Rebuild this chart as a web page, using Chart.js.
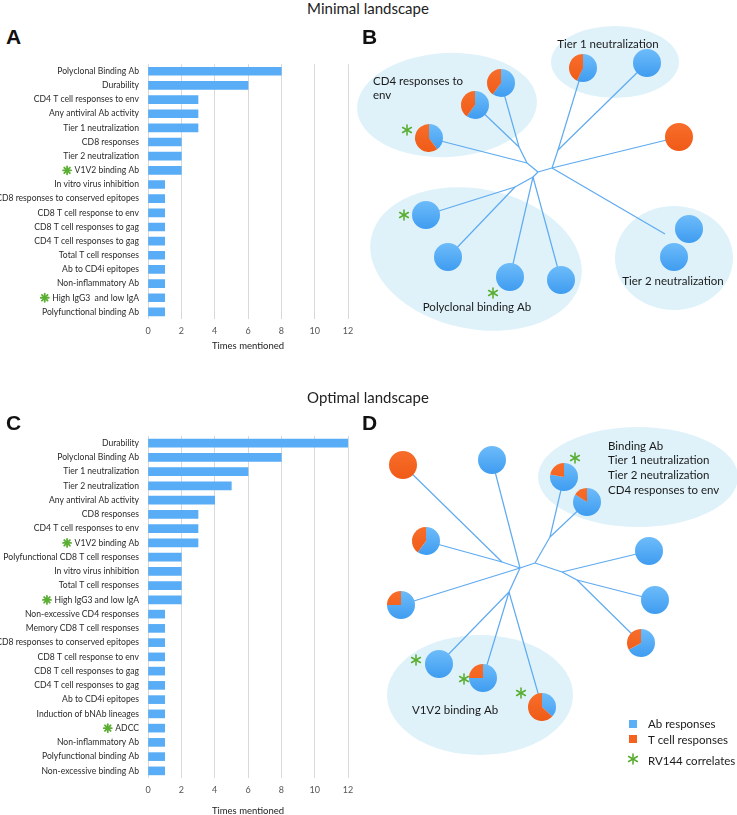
<!DOCTYPE html>
<html>
<head>
<meta charset="utf-8">
<script src="https://cdn.jsdelivr.net/npm/chart.js@4.4.1/dist/chart.umd.min.js"></script>
<style>
  body { margin: 0; width: 737px; height: 815px; overflow: hidden; background: #fff; position: relative; font-family: Lato, sans-serif; color: #222; }
  canvas { position: absolute; }
  .title { position: absolute; left: 368px; transform: translate(-50%, -50%); font-size: 15px; white-space: nowrap; }
  .panel { position: absolute; font: bold 21px "Liberation Sans", Arial, sans-serif; color: #111; }
</style>
</head>
<body>
<canvas id="barA" width="360" height="306" style="left:0;top:50px"></canvas>
<canvas id="treeB" width="387" height="325" style="left:350px;top:20px"></canvas>
<canvas id="barC" width="360" height="401" style="left:0;top:420px"></canvas>
<canvas id="treeD" width="387" height="410" style="left:350px;top:405px"></canvas>

<div class="title" style="top:8px">Minimal landscape</div>
<div class="title" style="top:397px">Optimal landscape</div>
<div class="panel" style="left:6px;top:25px">A</div>
<div class="panel" style="left:362px;top:25px">B</div>
<div class="panel" style="left:6px;top:411px">C</div>
<div class="panel" style="left:362px;top:411px">D</div>

<script>
// ---- bar chart data (times mentioned) ----
const minimalLabels = [
  'Polyclonal Binding Ab', 'Durability', 'CD4 T cell responses to env', 'Any antiviral Ab activity',
  'Tier 1 neutralization', 'CD8 responses', 'Tier 2 neutralization', 'V1V2 binding Ab',
  'In vitro virus inhibition', 'CD8 responses to conserved epitopes', 'CD8 T cell response to env',
  'CD8 T cell responses to gag', 'CD4 T cell responses to gag', 'Total T cell responses',
  'Ab to CD4i epitopes', 'Non-inflammatory Ab', 'High IgG3  and low IgA', 'Polyfunctional binding Ab'
];
const minimalCounts = [8, 6, 3, 3, 3, 2, 2, 2, 1, 1, 1, 1, 1, 1, 1, 1, 1, 1];
const minimalCorrelates = ['V1V2 binding Ab', 'High IgG3  and low IgA'];

const optimalLabels = [
  'Durability', 'Polyclonal Binding Ab', 'Tier 1 neutralization', 'Tier 2 neutralization',
  'Any antiviral Ab activity', 'CD8 responses', 'CD4 T cell responses to env', 'V1V2 binding Ab',
  'Polyfunctional CD8 T cell responses', 'In vitro virus inhibition', 'Total T cell responses',
  'High IgG3 and low IgA', 'Non-excessive CD4 responses', 'Memory CD8 T cell responses',
  'CD8 responses to conserved epitopes', 'CD8 T cell response to env', 'CD8 T cell responses to gag',
  'CD4 T cell responses to gag', 'Ab to CD4i epitopes', 'Induction of bNAb lineages', 'ADCC',
  'Non-inflammatory Ab', 'Polyfunctional binding Ab', 'Non-excessive binding Ab'
];
const optimalCounts = [12, 8, 6, 5, 4, 3, 3, 3, 2, 2, 2, 2, 1, 1, 1, 1, 1, 1, 1, 1, 1, 1, 1, 1];
const optimalCorrelates = ['V1V2 binding Ab', 'High IgG3 and low IgA', 'ADCC'];

const axisMax = 12;
const axisStep = 2;

// ---- tree data: Ab share of each leaf pie (1 = all Ab, 0 = all T cell) ----
const minimalLeaves = ['b1', 'b2', 'b3', 'b4', 'b5', 'b6', 'b7', 'b8', 'b9', 'b10', 'b11', 'b12'];
const minimalAbShare = [0.6, 0.6, 0.4, 0.57, 1, 0, 1, 1, 1, 1, 1, 1];
const minimalStarLeaves = ['b3', 'b7', 'b9'];
const minimalEdges = [
  ['P', 'R'], ['R', 'b3'], ['R', 'S'], ['S', 'b1'], ['S', 'b2'],
  ['P', 'Q'], ['Q', 'T'], ['T', 'b4'], ['T', 'b5'], ['Q', 'b6'], ['Q', 'X'],
  ['P', 'U'], ['U', 'V'], ['V', 'b7'], ['V', 'b8'], ['U', 'b9'], ['U', 'b10']
];
const minimalGroups = ['CD4 responses to\nenv', 'Tier 1 neutralization', 'Polyclonal binding Ab', 'Tier 2 neutralization'];

const optimalLeaves = ['d1', 'd2', 'd3', 'd4', 'd5', 'd6', 'd7', 'd8', 'd9', 'd10', 'd11', 'd12'];
const optimalAbShare = [0, 1, 0.78, 0.84, 0.6, 1, 0.75, 1, 0.67, 1, 0.75, 0.37];
const optimalStarLeaves = ['d3', 'd10', 'd11', 'd12'];
const optimalEdges = [
  ['P', 'Q'], ['P', 'L'], ['L', 'd1'], ['L', 'd5'], ['P', 'd2'], ['P', 'd7'],
  ['P', 'B'], ['B', 'd10'], ['B', 'd11'], ['B', 'd12'],
  ['Q', 'T'], ['T', 'd3'], ['T', 'd4'], ['Q', 'R1'], ['R1', 'd6'], ['R1', 'R2'], ['R2', 'd8'], ['R2', 'd9']
];
const optimalGroups = ['Binding Ab\nTier 1 neutralization\nTier 2 neutralization\nCD4 responses to env', 'V1V2 binding Ab'];
const legendLabels = ['Ab responses', 'T cell responses', 'RV144 correlates'];

// ---- layout (page pixels) ----
const minimalLayout = {
  P: [538, 172], R: [527, 163], S: [519, 147], Q: [552, 168], T: [558, 150], U: [533, 177], V: [515, 187], X: [665, 234],
  b1: [501, 83], b2: [475, 105], b3: [429, 138], b4: [583, 68], b5: [647, 63], b6: [679, 137],
  b7: [426, 215], b8: [448, 257], b9: [510, 277], b10: [561, 280], b11: [689, 229], b12: [674, 257]
};
const minimalStarOffset = { b3: [-22, -8], b7: [-22, 0], b9: [-17, 16] };
const minimalEllipses = [[447, 105, 90, 52, -0.05], [615, 62, 64, 36, 0], [476, 259, 107, 70, 0.2], [674, 258, 59, 52, 0]];
const minimalGroupPos = [[373, 81, 'left'], [608, 44, 'center'], [477, 307, 'center'], [673, 281, 'center']];

const optimalLayout = {
  P: [520, 568], Q: [535, 563], L: [502, 562], B: [509, 592], T: [550, 537], R1: [562, 572], R2: [577, 580],
  d1: [403, 465], d2: [492, 460], d3: [564, 477], d4: [587, 502], d5: [426, 541], d6: [649, 551],
  d7: [401, 605], d8: [655, 600], d9: [641, 643], d10: [439, 664], d11: [483, 678], d12: [542, 707]
};
const optimalStarOffset = { d3: [11, -19], d10: [-23, -4], d11: [-19, 1], d12: [-21, -14] };
const optimalEllipses = [[638, 477, 100, 50, 0], [480, 695, 93, 60, 0]];
const optimalGroupPos = [[608, 446, 'left'], [455, 710, 'center']];
const legendPos = [633, 648, [724, 740, 761]];

// ---- styles ----
const barBlue = '#59adf6';
const lineBlue = '#5eaaf0';
const ellipseFill = '#dff2fa';
const starGreen = '#5aae32';
const labelFontSize = 8.6;
const tickFont = { family: 'Lato', size: labelFontSize };

function drawAsterisk(ctx, x, y, r, arms, width) {
  ctx.save();
  ctx.strokeStyle = starGreen;
  ctx.lineWidth = width;
  ctx.lineCap = 'round';
  for (let i = 0; i < arms / 2; i++) {
    const a = Math.PI / 2 + (2 * Math.PI * i) / arms;
    ctx.beginPath();
    ctx.moveTo(x + r * Math.cos(a), y + r * Math.sin(a));
    ctx.lineTo(x - r * Math.cos(a), y - r * Math.sin(a));
    ctx.stroke();
  }
  ctx.restore();
}

// green asterisk in front of the correlate labels
const correlateStars = {
  id: 'correlateStars',
  afterDraw(chart, args, opts) {
    const ctx = chart.ctx;
    const yScale = chart.scales.y;
    const labels = chart.data.labels;
    ctx.save();
    ctx.font = labelFontSize + 'px Lato';
    opts.names.forEach(name => {
      const i = labels.indexOf(name);
      if (i < 0) return;
      const w = ctx.measureText(name).width;
      const right = yScale.right - yScale.options.ticks.padding;
      drawAsterisk(ctx, right - w - 7.5, yScale.getPixelForValue(i), 4, 8, 1.8);
    });
    ctx.restore();
  }
};

function makeBarChart(id, labels, counts, correlates, padTop, axisHeight) {
  return new Chart(document.getElementById(id), {
    type: 'bar',
    data: {
      labels: labels,
      datasets: [{ data: counts, backgroundColor: barBlue, barThickness: 8 }]
    },
    options: {
      indexAxis: 'y',
      responsive: false,
      animation: false,
      layout: { padding: { top: padTop, right: 12, left: 0, bottom: 0 } },
      plugins: {
        legend: { display: false },
        tooltip: { enabled: false },
        correlateStars: { names: correlates }
      },
      scales: {
        x: {
          min: 0, max: axisMax,
          ticks: { stepSize: axisStep, padding: 6.5, font: { family: 'Lato', size: 9 }, color: '#555' },
          grid: { color: '#d9d9d9', drawTicks: false },
          border: { display: false },
          title: { display: true, text: 'Times mentioned', font: { family: 'Lato', size: 9.5 }, color: '#222', padding: { top: 0, bottom: 4 } },
          afterFit(scale) { scale.height = axisHeight; }
        },
        y: {
          ticks: { padding: 9, font: tickFont, color: '#2a2a2a', autoSkip: false },
          grid: { display: false, drawTicks: false },
          border: { display: false },
          afterFit(scale) { scale.width = 148; }
        }
      }
    },
    plugins: [correlateStars]
  });
}

makeBarChart('barA', minimalLabels, minimalCounts, minimalCorrelates, 13, 37);
makeBarChart('barC', optimalLabels, optimalCounts, optimalCorrelates, 16, 43);

// ---- trees ----
const treeDecor = {
  id: 'treeDecor',
  beforeDatasetsDraw(chart, args, o) {
    const ctx = chart.ctx, xs = chart.scales.x, ys = chart.scales.y;
    ctx.save();
    ctx.fillStyle = ellipseFill;
    o.ellipses.forEach(([cx, cy, rx, ry, rot]) => {
      const px = xs.getPixelForValue(cx), py = ys.getPixelForValue(cy);
      ctx.beginPath();
      ctx.ellipse(px, py, xs.getPixelForValue(cx + rx) - px, ys.getPixelForValue(cy + ry) - py, rot, 0, Math.PI * 2);
      ctx.fill();
    });
    ctx.restore();
  },
  afterDatasetsDraw(chart, args, o) {
    const ctx = chart.ctx, xs = chart.scales.x, ys = chart.scales.y;
    const r = 14;
    ctx.save();
    o.leaves.forEach((id, i) => {
      const [lx, ly] = o.layout[id];
      const px = xs.getPixelForValue(lx), py = ys.getPixelForValue(ly);
      const blue = ctx.createLinearGradient(0, py - r, 0, py + r);
      blue.addColorStop(0, '#6dbcfa'); blue.addColorStop(1, '#3f9cf0');
      const orange = ctx.createLinearGradient(0, py - r, 0, py + r);
      orange.addColorStop(0, '#f86d2a'); orange.addColorStop(1, '#ef5b17');
      const share = o.abShare[i];
      const start = -Math.PI / 2, mid = start + share * Math.PI * 2;
      if (share > 0) {
        ctx.fillStyle = blue;
        ctx.beginPath(); ctx.moveTo(px, py); ctx.arc(px, py, r, start, mid); ctx.closePath(); ctx.fill();
      }
      if (share < 1) {
        ctx.fillStyle = orange;
        ctx.beginPath(); ctx.moveTo(px, py); ctx.arc(px, py, r, mid, start + Math.PI * 2); ctx.closePath(); ctx.fill();
      }
      if (o.stars.includes(id)) {
        const [dx, dy] = o.starOffset[id];
        drawAsterisk(ctx, px + dx, py + dy, 5, 6, 1.6);
      }
    });
    ctx.fillStyle = '#1a1a1a';
    ctx.font = '11.5px Lato';
    ctx.textBaseline = 'middle';
    o.groups.forEach((text, i) => {
      const [gx, gy, align] = o.groupPos[i];
      ctx.textAlign = align;
      text.split('\n').forEach((line, k) => {
        ctx.fillText(line, xs.getPixelForValue(gx), ys.getPixelForValue(gy + k * 14.6));
      });
    });
    if (o.legend) {
      const [sx, tx, rows] = legendPos;
      ctx.textAlign = 'left';
      ctx.fillStyle = '#5aaff6';
      ctx.fillRect(xs.getPixelForValue(sx) - 4, ys.getPixelForValue(rows[0]) - 4, 8, 8);
      ctx.fillStyle = '#f5621d';
      ctx.fillRect(xs.getPixelForValue(sx) - 4, ys.getPixelForValue(rows[1]) - 5, 8, 8);
      drawAsterisk(ctx, xs.getPixelForValue(sx), ys.getPixelForValue(rows[2]) - 2, 5, 6, 1.6);
      ctx.fillStyle = '#1a1a1a';
      o.legend.forEach((t, k) => ctx.fillText(t, xs.getPixelForValue(tx), ys.getPixelForValue(rows[k])));
    }
    ctx.restore();
  }
};

function makeTree(id, left, top, w, h, cfg) {
  const pt = k => ({ x: cfg.layout[k][0], y: cfg.layout[k][1] });
  return new Chart(document.getElementById(id), {
    type: 'scatter',
    data: {
      datasets: cfg.edges.map(([a, b]) => ({
        data: [pt(a), pt(b)], showLine: true, borderColor: lineBlue, borderWidth: 1.2, pointRadius: 0
      }))
    },
    options: {
      responsive: false,
      animation: false,
      layout: { padding: 0 },
      plugins: { legend: { display: false }, tooltip: { enabled: false }, treeDecor: cfg },
      scales: {
        x: { type: 'linear', min: left, max: left + w, display: false },
        y: { type: 'linear', min: top, max: top + h, reverse: true, display: false }
      }
    },
    plugins: [treeDecor]
  });
}

makeTree('treeB', 350, 20, 387, 325, {
  layout: minimalLayout, edges: minimalEdges, leaves: minimalLeaves, abShare: minimalAbShare,
  stars: minimalStarLeaves, starOffset: minimalStarOffset, ellipses: minimalEllipses,
  groups: minimalGroups, groupPos: minimalGroupPos
});
makeTree('treeD', 350, 405, 387, 410, {
  layout: optimalLayout, edges: optimalEdges, leaves: optimalLeaves, abShare: optimalAbShare,
  stars: optimalStarLeaves, starOffset: optimalStarOffset, ellipses: optimalEllipses,
  groups: optimalGroups, groupPos: optimalGroupPos, legend: legendLabels
});
</script>
</body>
</html>
